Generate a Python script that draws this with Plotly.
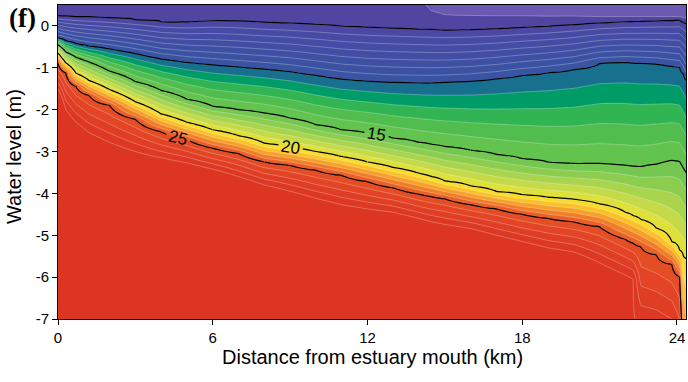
import numpy as np
import plotly.graph_objects as go

# ---- data ----
distance_km = [0, 0.3, 0.7, 1.2, 2.0, 3.0, 4.0, 5.0, 6.0, 7.0, 8.0, 9.0, 10.0, 11.0, 12.0,
               13.0, 14.0, 14.5, 15.0, 16.0, 17.0, 18.0, 19.0, 20.0, 21.0, 22.0, 22.3, 22.6,
               23.2, 23.8, 24.1, 24.25, 24.35]
nan = float("nan")

# salinity at the top of the frame (+0.5 m) and at the bed (-7 m)
surface_psu = [2.6, 2.6, 2.6, 2.6, 2.6, 2.6, 2.6, 2.6, 2.6, 2.6, 2.6, 2.6, 2.6, 2.6, 2.6, 2.6,
               2.6, 1.5, 1.5, 1.5, 1.5, 1.5, 1.5, 1.5, 1.5, 1.5, 1.5, 1.5, 1.5, 1.5, 1.5, 1.5,
               1.5]
bottom_psu = [65, 52, 51, 49, 48, 50, 54, 56, 58, 55, 52, 49, 47, 45, 45, 46, 44, 44, 44, 44,
              42, 40, 39, 38, 35, 34, 29.1, 28.7, 28.5, 28.0, 27.0, 23.0, 22.0]

# water level (m) of each isohaline along the estuary
iso_2 = [nan, nan, nan, nan, nan, nan, nan, nan, nan, nan, nan, nan, nan, nan, nan, nan, nan,
         0.36, 0.27, 0.25, 0.24, 0.24, 0.23, 0.23, 0.22, 0.22, 0.22, 0.22, 0.22, 0.22, 0.22,
         0.20, 0.18]
iso_3 = [0.24, 0.23, 0.22, 0.21, 0.19, 0.15, 0.10, 0.09, 0.12, 0.11, 0.08, 0.06, 0.03, -0.01,
         -0.04, -0.06, -0.08, -0.09, -0.10, -0.09, -0.07, -0.04, -0.01, 0.03, 0.07, 0.10, 0.105,
         0.11, 0.12, 0.13, 0.14, 0.08, 0.05]
iso_10 = [-0.29, -0.35, -0.42, -0.48, -0.55, -0.66, -0.79, -0.87, -0.93, -0.98, -1.03, -1.09,
          -1.18, -1.27, -1.32, -1.35, -1.36, -1.36, -1.35, -1.32, -1.26, -1.18, -1.12, -1.04,
          -0.90, -0.87, -0.88, -0.89, -0.91, -0.96, -0.99, -1.15, -1.30]
iso_15 = [-0.45, -0.62, -0.75, -0.86, -1.08, -1.33, -1.54, -1.75, -1.92, -2.00, -2.08, -2.20,
          -2.36, -2.48, -2.56, -2.68, -2.78, -2.83, -2.88, -2.97, -3.07, -3.17, -3.25, -3.29,
          -3.29, -3.33, -3.35, -3.36, -3.30, -3.21, -3.24, -3.40, -3.50]
iso_20 = [-0.65, -0.88, -1.13, -1.30, -1.52, -1.81, -2.10, -2.30, -2.48, -2.62, -2.80, -2.90,
          -3.00, -3.12, -3.25, -3.38, -3.52, -3.60, -3.70, -3.82, -3.95, -4.03, -4.09, -4.14,
          -4.25, -4.45, -4.53, -4.62, -4.83, -5.15, -5.35, -5.50, -5.56]
iso_25 = [-0.89, -1.12, -1.45, -1.66, -1.90, -2.23, -2.53, -2.72, -2.92, -3.05, -3.25, -3.33,
          -3.45, -3.57, -3.72, -3.87, -4.02, -4.08, -4.13, -4.27, -4.37, -4.50, -4.60, -4.68,
          -4.80, -5.10, -5.19, -5.28, -5.47, -5.70, -6.00, nan, nan]
iso_29 = [-1.50, -2.00, -2.30, -2.55, -2.78, -3.00, -3.15, -3.27, -3.42, -3.60, -3.80, -3.95,
          -4.12, -4.27, -4.37, -4.45, -4.60, -4.68, -4.74, -4.84, -5.00, -5.15, -5.30, -5.40,
          -5.66, -5.95, -6.05, nan, nan, nan, nan, nan, nan]

x_ticks = [0, 6, 12, 18, 24]
y_ticks = [0, -1, -2, -3, -4, -5, -6, -7]
y_ticktext = ["0", "-1", "-2", "-3", "-4", "-5", "-6", "-7"]

# one colour per 1-psu band: below 0, 0-1, 1-2, ..., 28-29, above 29
band_colors = ["#6a5ab2", "#6a5ab2", "#6a5ab2", "#5046a2", "#4b48a4", "#474aa5", "#444ca5",
               "#414ea4", "#3e50a3", "#3b52a2", "#3854a2", "#16708e", "#009c68", "#30b552",
               "#50bd4e", "#62c34f", "#74c750", "#8ccd50", "#a8d44e", "#c4da48", "#dee03c",
               "#f8dc2c", "#fac12a", "#f6a02a", "#f07e29", "#ea6027", "#e54d25", "#e24425",
               "#df3d24", "#dd3823", "#dc3522"]

# stretch of each labelled black isohaline that carries its label (km)
label_spans = {25: (1.2, 8.0), 20: (6.0, 12.0), 15: (9.0, 16.0)}

# ---- build the salinity table from the isohalines ----
iso_levels = {2: iso_2, 3: iso_3, 10: iso_10, 15: iso_15, 20: iso_20, 25: iso_25, 29: iso_29}
y_grid = np.round(np.arange(-7.0, 0.5001, 0.025), 4)
Z = np.zeros((len(y_grid), len(distance_km)))
for j in range(len(distance_km)):
    knots = [(0.5, surface_psu[j]), (-7.0, bottom_psu[j])]
    for lev, arr in iso_levels.items():
        if not np.isnan(arr[j]):
            knots.append((arr[j], lev))
    knots.sort()
    Z[:, j] = np.interp(y_grid, [k[0] for k in knots], [k[1] for k in knots])

n = len(band_colors)
colorscale = [[k / (n - 1), c] for k, c in enumerate(band_colors)]

fig = go.Figure()
fig.add_trace(go.Contour(
    x=distance_km, y=y_grid, z=Z, autocontour=False,
    contours=dict(start=0, end=29, size=1, coloring="fill"),
    colorscale=colorscale, showscale=False, line=dict(width=0), hoverinfo="skip"))

# thin white isohalines every 1 psu (black ones drawn separately)
for s, e in [(0, 14), (16, 19), (21, 24), (26, 29)]:
    fig.add_trace(go.Contour(
        x=distance_km, y=y_grid, z=Z, autocontour=False,
        contours=dict(start=s, end=e, size=1, coloring="none"),
        line=dict(color="rgba(255,255,255,0.45)", width=0.6), showscale=False,
        hoverinfo="skip"))


def black_line(level, x0, x1, labels):
    idx = [i for i, x in enumerate(distance_km) if x0 <= x <= x1]
    return go.Contour(
        x=[distance_km[i] for i in idx], y=y_grid, z=Z[:, idx], autocontour=False,
        contours=dict(start=level, end=level, size=1, coloring="none", showlabels=labels,
                      labelfont=dict(size=17, color="black",
                                     family="Liberation Sans, Arial")),
        line=dict(color="black", width=1.2), showscale=False, hoverinfo="skip")


x_end = distance_km[-1]
fig.add_trace(black_line(3, 0, x_end, False))
fig.add_trace(black_line(10, 0, x_end, False))
for lev, (a, b) in label_spans.items():
    fig.add_trace(black_line(lev, 0, a, False))
    fig.add_trace(black_line(lev, a, b, True))
    fig.add_trace(black_line(lev, b, x_end, False))

tickfont = dict(family="Liberation Sans, Arial", size=15, color="black")
fig.update_xaxes(range=[0, 24.35], tickvals=x_ticks, ticks="outside", ticklen=5,
                 tickcolor="black", showline=True, linecolor="black", linewidth=1,
                 mirror=True, showgrid=False, zeroline=False, tickfont=tickfont)
fig.update_yaxes(range=[-7, 0.5], tickvals=y_ticks, ticktext=y_ticktext, ticks="outside",
                 ticklen=5, tickcolor="black", showline=True, linecolor="black", linewidth=1,
                 mirror=True, showgrid=False, zeroline=False, tickfont=tickfont)

titlefont = dict(family="Liberation Sans, Arial", size=20, color="black")
fig.update_layout(
    width=688, height=382, margin=dict(l=58, r=2, t=5, b=63),
    plot_bgcolor="white", paper_bgcolor="white", showlegend=False,
    annotations=[
        dict(text="Distance from estuary mouth (km)", xref="paper", yref="paper",
             x=0.5, y=-0.121, xanchor="center", yanchor="middle", showarrow=False,
             font=titlefont),
        dict(text="Water level (m)", xref="paper", yref="paper", x=-0.070, y=0.516,
             xanchor="center", yanchor="middle", textangle=-90, showarrow=False,
             font=titlefont),
        dict(text="<b>(f)</b>", xref="paper", yref="paper", x=-0.057, y=0.958,
             xanchor="center", yanchor="middle", showarrow=False,
             font=dict(family="Liberation Serif, Times New Roman", size=27, color="black")),
    ])

fig.write_html("out.html")
